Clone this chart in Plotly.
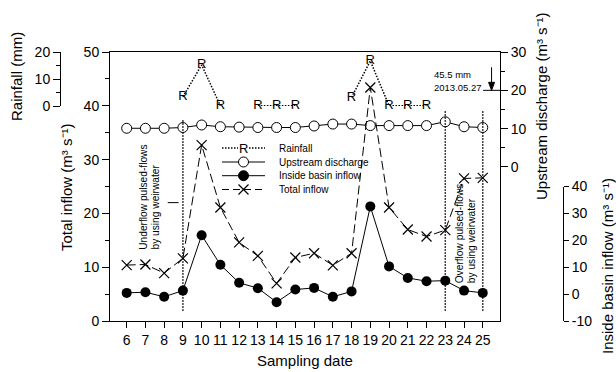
import plotly.graph_objects as go

# ---------------- data ----------------
dates = list(range(6, 26))
rainfall = [None, None, None, 3.4, 15.2, 0.1, None, 0.1, 0.1, 0.1,
            None, None, 3.2, 16.7, 0.1, 0.1, 0.1, None, None, None]
upstream = [10.1, 10.1, 10.1, 10.3, 10.96, 10.5, 10.4, 10.3, 10.3, 10.3,
            10.7, 11.2, 11.2, 10.8, 10.8, 10.8, 10.8, 11.8, 10.5, 10.3]
inside = [0.45, 0.7, -1.0, 1.3, 21.9, 10.9, 4.2, 2.2, -3.0, 1.7,
          2.3, -1.0, 1.0, 32.6, 10.3, 6.0, 4.8, 5.0, 1.3, 0.45]
total = [10.4, 10.5, 8.9, 11.65, 32.7, 21.1, 14.6, 12.1, 7.0, 11.8,
         12.6, 10.35, 12.6, 43.4, 21.1, 17.0, 15.7, 16.9, 26.5, 26.6]
legend_labels = ["Rainfall", "Upstream discharge", "Inside basin inflow", "Total inflow"]
inside_ticks = [-10, 0, 10, 20, 30, 40]
inside_ticktext = ["-10", "0", "10", "20", "30", "40"]
vline_dates = [9, 23, 25]

FONT = "Liberation Sans, Arial, sans-serif"
W, H = 616, 372
ML, MR, MT, MB = 60, 53, 52, 51
PW, PH = W - ML - MR, H - MT - MB


def px(x):
    return (x - ML) / PW


def py(y):
    return (H - MB - y) / PH


fig = go.Figure()

fig.add_trace(go.Scatter(
    x=dates, y=upstream, xaxis="x", yaxis="y2", mode="lines+markers",
    line=dict(color="black", width=1),
    marker=dict(symbol="circle", size=10, color="white", line=dict(color="black", width=1)),
    name="Upstream discharge"))

fig.add_trace(go.Scatter(
    x=dates, y=total, xaxis="x", yaxis="y5", mode="lines+markers",
    line=dict(color="black", width=1, dash="9px,4px"),
    marker=dict(symbol="x-thin", size=10, color="black", line=dict(color="black", width=1.2)),
    name="Total inflow"))

fig.add_trace(go.Scatter(
    x=dates, y=inside, xaxis="x", yaxis="y3", mode="lines+markers",
    line=dict(color="black", width=1),
    marker=dict(symbol="circle", size=10, color="black"),
    name="Inside basin inflow"))

fig.add_trace(go.Scatter(
    x=dates, y=rainfall, xaxis="x", yaxis="y4", mode="lines+text",
    text="R",
    textposition="middle center", textfont=dict(size=13, color="black", family=FONT),
    line=dict(color="black", width=1.5, dash="1.5px,1.5px"),
    connectgaps=False, cliponaxis=False, name="Rainfall"))

axis_common = dict(showgrid=False, zeroline=False, showline=True, linecolor="black",
                   linewidth=1, ticks="outside", tickcolor="black", tickwidth=1,
                   tickfont=dict(size=14, color="black", family=FONT))

fig.update_layout(
    width=W, height=H, margin=dict(l=ML, r=MR, t=MT, b=MB),
    paper_bgcolor="white", plot_bgcolor="rgba(0,0,0,0)", showlegend=False,
    font=dict(family=FONT, size=14, color="black"),
    xaxis=dict(domain=[px(110), px(500)], range=[5.11, 25.92], tickmode="array",
               tickvals=dates, ticklen=6, mirror=True, anchor="y", **axis_common),
    yaxis=dict(domain=[0, 1], range=[0, 50], tick0=0, dtick=10, ticklen=7, mirror=True,
               anchor="x",
               minor=dict(tick0=0, dtick=5, ticks="outside", ticklen=4, tickcolor="black"),
               **axis_common),
    yaxis2=dict(overlaying="y", side="right", anchor="x", range=[-40.18, 30],
                tickmode="array", tickvals=[0, 10, 20, 30], ticklen=7,
                minor=dict(tickmode="array", tickvals=[5, 15, 25], ticks="outside",
                           ticklen=4, tickcolor="black"),
                **axis_common),
    yaxis3=dict(domain=[0, 0.5], range=[-10, 40], anchor="free", position=1, side="right",
                tickmode="array", tickvals=inside_ticks, ticktext=inside_ticktext, ticklen=5,
                **axis_common),
    yaxis4=dict(domain=[py(106), 1], range=[0, 20], anchor="free", position=0, side="left",
                tickmode="array", tickvals=[0, 10, 20], ticklen=7,
                minor=dict(tickmode="array", tickvals=[5, 15], ticks="outside",
                           ticklen=4, tickcolor="black"),
                **axis_common),
    yaxis5=dict(overlaying="y", anchor="x", range=[0, 50], visible=False),
)

shapes = []
# vertical dotted separators
for d, top in zip(vline_dates, [37.4, 39.2, 39.2]):
    shapes.append(dict(type="line", xref="x", yref="y", x0=d, x1=d, y0=1.9, y1=top,
                       line=dict(color="black", width=1.5, dash="1.5px,1.5px"), layer="above"))
# short leader line near date 9
shapes.append(dict(type="line", xref="x", yref="y", x0=8.19, x1=8.77, y0=22.0, y1=22.0,
                   line=dict(color="black", width=1)))
# horizontal pointer line at upstream 20
shapes.append(dict(type="line", xref="x", yref="y2", x0=25.02, x1=25.92, y0=20, y1=20,
                   line=dict(color="black", width=1)))
# down arrow marking 45.5 mm (off-scale rainfall)
shapes.append(dict(type="line", xref="x", yref="y2", x0=25.47, x1=25.47, y0=26.0, y1=21.0,
                   line=dict(color="black", width=1)))
shapes.append(dict(type="path", xref="x", yref="y2", xsizemode="pixel", ysizemode="pixel",
                   xanchor=25.47, yanchor=20, path="M-3,8L0,0L3,8Z",
                   fillcolor="black", line=dict(color="black", width=1)))

# manual legend
rows = [148, 162, 175.7, 189.5]
lx0, lx1, lxm, ltx = 222, 265, 243.5, 276.7
shapes.append(dict(type="line", xref="paper", yref="paper", x0=px(lx0), x1=px(238),
                   y0=py(rows[0]), y1=py(rows[0]),
                   line=dict(color="black", width=1.5, dash="1.5px,1.5px")))
shapes.append(dict(type="line", xref="paper", yref="paper", x0=px(249), x1=px(lx1),
                   y0=py(rows[0]), y1=py(rows[0]),
                   line=dict(color="black", width=1.5, dash="1.5px,1.5px")))
shapes.append(dict(type="line", xref="paper", yref="paper", x0=px(lx0), x1=px(lx1),
                   y0=py(rows[1]), y1=py(rows[1]), line=dict(color="black", width=1)))
shapes.append(dict(type="circle", xref="paper", yref="paper", xsizemode="pixel",
                   ysizemode="pixel", xanchor=px(lxm), yanchor=py(rows[1]),
                   x0=-5, x1=5, y0=-5, y1=5, fillcolor="white",
                   line=dict(color="black", width=1)))
shapes.append(dict(type="line", xref="paper", yref="paper", x0=px(lx0), x1=px(lx1),
                   y0=py(rows[2]), y1=py(rows[2]), line=dict(color="black", width=1)))
shapes.append(dict(type="circle", xref="paper", yref="paper", xsizemode="pixel",
                   ysizemode="pixel", xanchor=px(lxm), yanchor=py(rows[2]),
                   x0=-5, x1=5, y0=-5, y1=5, fillcolor="black",
                   line=dict(color="black", width=1)))
shapes.append(dict(type="line", xref="paper", yref="paper", x0=px(lx0), x1=px(lx1),
                   y0=py(rows[3]), y1=py(rows[3]),
                   line=dict(color="black", width=1, dash="7px,4px")))
shapes.append(dict(type="path", xref="paper", yref="paper", xsizemode="pixel",
                   ysizemode="pixel", xanchor=px(lxm), yanchor=py(rows[3]),
                   path="M-5,-5L5,5M-5,5L5,-5", line=dict(color="black", width=1.2)))

annotations = []
annotations.append(dict(text="R", xref="paper", yref="paper", x=px(lxm), y=py(rows[0]),
                        showarrow=False, font=dict(size=13, family=FONT, color="black"),
                        xanchor="center", yanchor="middle"))
for lab, r in zip(legend_labels, rows):
    annotations.append(dict(text=lab, xref="paper", yref="paper", x=px(ltx), y=py(r),
                            showarrow=False, font=dict(size=10, family=FONT, color="black"),
                            xanchor="left", yanchor="middle"))

# axis titles
unit = " (m\u00b3 s\u207b\u00b9)"
titles = [("Total inflow" + unit, 66, 187, -90),
          ("Rainfall (mm)", 17, 77, -90),
          ("Upstream discharge" + unit, 541, 106, -90),
          ("Inside basin inflow" + unit, 607, 266, -90),
          ("Sampling date", 304.5, 360, 0)]
for t, x, y, ang in titles:
    annotations.append(dict(text=t, xref="paper", yref="paper", x=px(x), y=py(y),
                            showarrow=False, textangle=ang,
                            font=dict(size=15, family=FONT, color="black"),
                            xanchor="center", yanchor="middle"))

# rotated notes
notes = [("Underflow pulsed-flows", 143.3, 252), ("by using weirwater", 155, 252),
         ("Overflow pulsed-flows", 459.3, 285), ("by using weirwater", 471.7, 285)]
for t, x, y in notes:
    annotations.append(dict(text=t, xref="paper", yref="paper", x=px(x), y=py(y),
                            showarrow=False, textangle=-90,
                            font=dict(size=10.2, family=FONT, color="black"),
                            xanchor="center", yanchor="bottom"))

# 45.5 mm note
annotations.append(dict(text="45.5 mm", xref="x", yref="y", x=22.28, y=45.86, showarrow=False,
                        font=dict(size=9.5, family=FONT, color="black"),
                        xanchor="left", yanchor="middle"))
annotations.append(dict(text="2013.05.27", xref="x", yref="y", x=22.28, y=43.36,
                        showarrow=False, font=dict(size=9.5, family=FONT, color="black"),
                        xanchor="left", yanchor="middle"))

fig.update_layout(shapes=shapes, annotations=annotations)
fig.write_html("out.html")
